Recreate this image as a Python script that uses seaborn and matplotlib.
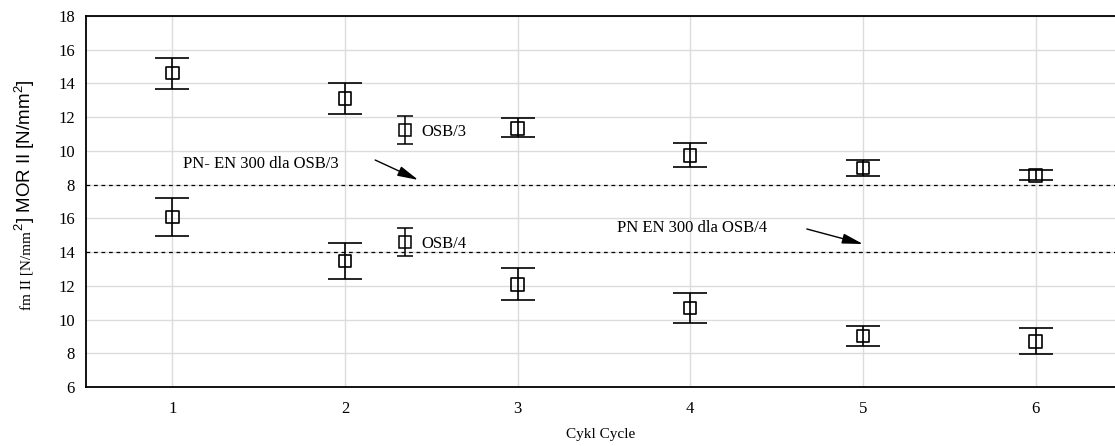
import numpy as np
import pandas as pd
import matplotlib
matplotlib.use("Agg")
import matplotlib.pyplot as plt
import seaborn as sns
from matplotlib.container import ErrorbarContainer
from matplotlib.legend import Legend
from matplotlib.legend_handler import HandlerErrorbar

# Cycle number and bending strength (mean with interval limits), N/mm2
cycles = [1, 2, 3, 4, 5, 6]
osb3_mean = [14.62, 13.12, 11.34, 9.74, 8.97, 8.53]
osb3_low = [13.67, 12.21, 10.81, 9.03, 8.49, 8.28]
osb3_high = [15.51, 14.01, 11.94, 10.45, 9.46, 8.85]
osb4_mean = [16.08, 13.47, 12.09, 10.70, 9.02, 8.69]
osb4_low = [14.96, 12.41, 11.18, 9.81, 8.45, 7.98]
osb4_high = [17.23, 14.54, 13.04, 11.59, 9.62, 9.48]

# PN-EN 300 minimum requirements
osb3_req = 8
osb4_req = 14

# OSB/3 is stacked above OSB/4 on one shared axis, shifted by this amount
upper_shift = 10
lower_ticks = [6, 8, 10, 12, 14, 16]
upper_ticks = [8, 10, 12, 14, 16, 18]
x_ticks = [1, 2, 3, 4, 5, 6]

sns.set_theme(style="whitegrid")
plt.rcParams["font.family"] = ["Liberation Serif", "DejaVu Serif"]
plt.rcParams["mathtext.fontset"] = "custom"
plt.rcParams["mathtext.rm"] = "Liberation Serif"
plt.rcParams["mathtext.sf"] = "Liberation Sans"
plt.rcParams["text.color"] = "black"
plt.rcParams["axes.labelcolor"] = "black"

fig = plt.figure(figsize=(11.15, 4.46), dpi=100)
ax = fig.add_axes([86 / 1115, 59 / 446, 1 - 86 / 1115, 371 / 446])

frames = []
for name, mean, low, high, shift in [
    ("OSB/3", osb3_mean, osb3_low, osb3_high, upper_shift),
    ("OSB/4", osb4_mean, osb4_low, osb4_high, 0),
]:
    frames.append(pd.DataFrame({
        "cycle": cycles,
        "board": name,
        "y": np.array(mean) + shift,
        "lo": np.array(low) + shift,
        "hi": np.array(high) + shift,
    }))
df = pd.concat(frames, ignore_index=True)

# interval bars
ax.errorbar(df["cycle"], df["y"],
            yerr=[df["y"] - df["lo"], df["hi"] - df["y"]],
            fmt="none", ecolor="black", elinewidth=1.2,
            capsize=12, capthick=1.2, zorder=3)

# mean markers
sns.scatterplot(data=df, x="cycle", y="y", marker="s", s=80,
                facecolor="none", edgecolor="black", linewidth=1.2,
                ax=ax, zorder=4, legend=False)

# requirement lines
for req, shift in [(osb3_req, upper_shift), (osb4_req, 0)]:
    ax.axhline(req + shift, color="black", lw=0.9, ls=(0, (3, 3)), zorder=2)

arrow = dict(arrowstyle="-|>,head_length=0.9,head_width=0.22", color="black",
             lw=1, mutation_scale=14, shrinkA=0, shrinkB=0)
ax.text(1.51, 19.2, "PN- EN 300 dla OSB/3", fontsize=12, ha="center", va="center",
        color="black")
ax.annotate("", xy=(2.424, osb3_req + upper_shift + 0.28), xytext=(2.175, 19.46),
            arrowprops=arrow)
ax.text(4.01, 15.45, "PN EN 300 dla OSB/4", fontsize=12, ha="center", va="center",
        color="black")
ax.annotate("", xy=(5.0, osb4_req + 0.48), xytext=(4.675, 15.37),
            arrowprops=arrow)

# legend entries placed next to each group
handler = {ErrorbarContainer: HandlerErrorbar(yerr_size=0.85)}
for name, ypos in [("OSB/3", 11.15 + upper_shift), ("OSB/4", 14.5)]:
    proxy = ax.errorbar([np.nan], [np.nan], yerr=[np.nan], fmt="s",
                        mfc="none", mec="black", mew=1.1, ms=8,
                        ecolor="black", elinewidth=1.1, capsize=6, capthick=1.1)
    leg = Legend(ax, [proxy], [name], loc="center left",
                 bbox_to_anchor=(2.30, ypos), bbox_transform=ax.transData,
                 frameon=False, handlelength=1.0, handletextpad=0.5,
                 borderpad=0, borderaxespad=0, fontsize=12,
                 handler_map=handler, labelcolor="black")
    ax.add_artist(leg)

ax.set_xlim(0.5, 6.46)
ax.set_ylim(6, 28)
ax.set_xticks(x_ticks)
ax.set_xticklabels([str(v) for v in x_ticks])
ax.set_yticks(lower_ticks + [t + upper_shift for t in upper_ticks])
ax.set_yticklabels([str(t) for t in lower_ticks + upper_ticks])

ax.grid(True, color="#dcdcdc", lw=1)
ax.set_facecolor("white")
for side in ["left", "bottom", "top"]:
    ax.spines[side].set_visible(True)
    ax.spines[side].set_color("black")
    ax.spines[side].set_linewidth(1.3)
ax.spines["right"].set_visible(False)
ax.tick_params(axis="both", direction="in", length=3, width=1, color="black",
               labelsize=12, labelcolor="black")
ax.tick_params(axis="x", pad=10)
ax.tick_params(axis="y", pad=8)

ax.set_ylabel("")
ax.set_xlabel("Cykl Cycle", fontsize=11, labelpad=8, color="black")

# two-part vertical axis title
fig.canvas.draw()
t1 = fig.text(31 / 1115, (446 - 310) / 446, "fm II [N/mm", rotation=90,
              rotation_mode="anchor", ha="left", va="baseline",
              fontsize=11, family="Liberation Serif", color="black")
fig.canvas.draw()
bb = t1.get_window_extent()
fig.text(31 / 1115, bb.y1 / fig.bbox.height, r"$^{\mathsf{2}}$] MOR II [N/mm$^{\mathsf{2}}$]",
         rotation=90, rotation_mode="anchor", ha="left", va="baseline",
         fontsize=13.5, family="Liberation Sans", color="black")

fig.savefig("out.png", dpi=100)
